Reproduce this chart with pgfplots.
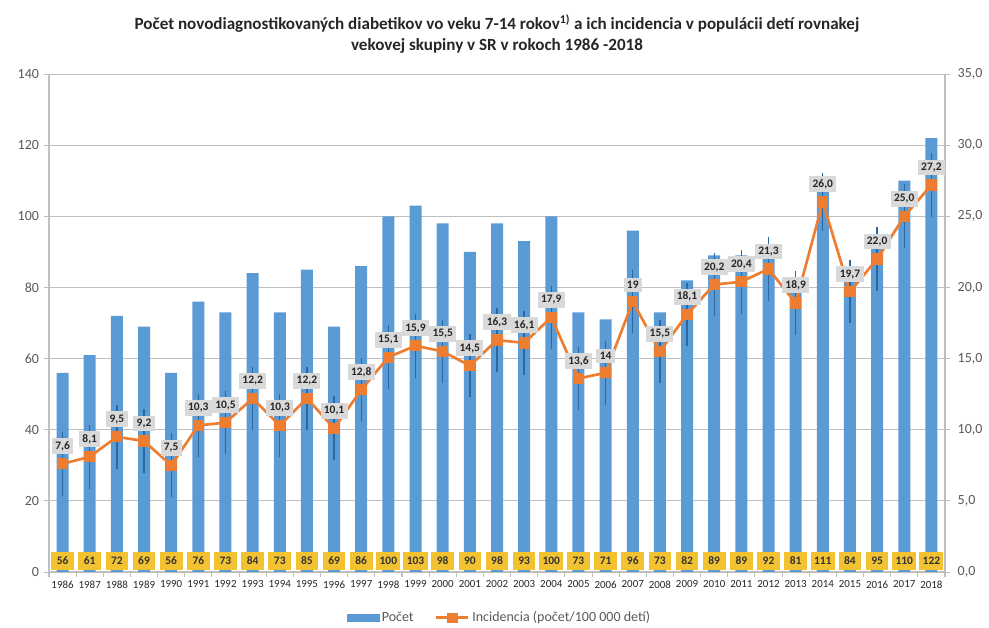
\documentclass[border=0pt]{standalone}
\usepackage{pgfplots}
\pgfplotsset{compat=1.18}
\usepackage{pgfplotstable}
\usepackage{fontspec}
\setmainfont{Carlito}
\definecolor{barblue}{HTML}{5B9BD5}
\definecolor{lineorange}{HTML}{ED7D31}
\definecolor{errblue}{HTML}{2B67A0}
\definecolor{lblgray}{HTML}{D9D9D9}
\definecolor{lblgold}{HTML}{F2C230}
\definecolor{axgray}{HTML}{BFBFBF}
\definecolor{txtgray}{HTML}{595959}

\pgfplotstableread{
x year n inc err lab
0 1986 56 7.6 2 7,6
1 1987 61 8.1 2 8,1
2 1988 72 9.5 2 9,5
3 1989 69 9.2 2 9,2
4 1990 56 7.5 2 7,5
5 1991 76 10.3 2 10,3
6 1992 73 10.5 2 10,5
7 1993 84 12.2 2 12,2
8 1994 73 10.3 2 10,3
9 1995 85 12.2 2 12,2
10 1996 69 10.1 2 10,1
11 1997 86 12.8 2 12,8
12 1998 100 15.1 2 15,1
13 1999 103 15.9 2 15,9
14 2000 98 15.5 2 15,5
15 2001 90 14.5 2 14,5
16 2002 98 16.3 2 16,3
17 2003 93 16.1 2 16,1
18 2004 100 17.9 2 17,9
19 2005 73 13.6 2 13,6
20 2006 71 14.0 2 14
21 2007 96 19.0 2 19
22 2008 73 15.5 2 15,5
23 2009 82 18.1 2 18,1
24 2010 89 20.2 2 20,2
25 2011 89 20.4 2 20,4
26 2012 92 21.3 2 21,3
27 2013 81 18.9 2 18,9
28 2014 111 26.0 1.8 26,0
29 2015 84 19.7 2 19,7
30 2016 95 22.0 2 22,0
31 2017 110 25.0 2 25,0
32 2018 122 27.2 2 27,2
}\datatable

\begin{document}
\begin{tikzpicture}
\useasboundingbox (-36.75pt,-42pt) rectangle (705pt,429pt);
\begin{axis}[
  at={(0,0)}, anchor=south west,
  width=672pt, height=373.5pt, scale only axis,
  xmin=-0.5, xmax=32.5, ymin=0, ymax=140,
  ytick={0,20,...,140},
  ymajorgrids, grid style={axgray, line width=0.6pt},
  axis x line*=bottom, axis y line*=left,
  axis line style={axgray, line width=0.8pt},
  xtick={0,...,32},
  xticklabels={1986,1987,1988,1989,1990,1991,1992,1993,1994,1995,1996,1997,1998,1999,2000,2001,2002,2003,2004,2005,2006,2007,2008,2009,2010,2011,2012,2013,2014,2015,2016,2017,2018},
  minor xtick={-0.5,0.5,...,32.5},
  major x tick style={draw=none},
  minor x tick style={axgray, line width=0.8pt},
  minor tick length=4pt,
  y tick style={axgray, line width=0.6pt},
  major tick length=4pt,
  tick align=outside,
  xticklabel style={font=\fontsize{8.2}{9}\selectfont, text=black!85, yshift=1pt},
  yticklabel style={font=\fontsize{10.5}{12}\selectfont, text=txtgray},
  /pgf/number format/assume math mode=true,
  clip=false,
]
\addplot[ybar, bar width=9pt, fill=barblue, draw=none] table[x=x, y=n] {\datatable};
\addplot[draw=none, mark=none, nodes near coords, point meta=explicit symbolic,
  every node near coord/.append style={anchor=center, fill=lblgold, text=black!80,
    font=\fontsize{8.6}{9}\selectfont\bfseries, inner xsep=2.5pt, inner ysep=2pt,
    minimum width=17pt, minimum height=14pt}]
  table[x=x, y expr=3.1, meta=n] {\datatable};
\node[align=center, font=\fontsize{12.8}{15.5}\selectfont\bfseries, text=black!85] at (rel axis cs:0.5,1) [yshift=30pt]
  {Počet novodiagnostikovaných diabetikov vo veku 7-14 rokov\textsuperscript{1)} a ich incidencia v populácii detí rovnakej\\ vekovej skupiny v SR v rokoch 1986 -2018};
\end{axis}
\begin{axis}[
  at={(0,0)}, anchor=south west,
  width=672pt, height=373.5pt, scale only axis,
  xmin=-0.5, xmax=32.5, ymin=0, ymax=35,
  ytick={0,5,...,35},
  axis x line=none, axis y line*=right,
  axis line style={axgray, line width=0.8pt},
  y tick style={axgray, line width=0.6pt},
  major tick length=4pt, tick align=outside,
  yticklabel style={font=\fontsize{10.5}{12}\selectfont, text=txtgray, xshift=2pt},
  /pgf/number format/.cd, fixed, fixed zerofill, precision=1, use comma, assume math mode=true,
  /pgfplots/.cd,
  legend style={at={(0.503,-0.092)}, anchor=center, draw=none, fill=none,
    legend columns=2, font=\fontsize{10.5}{12}\selectfont, text=txtgray,
    /tikz/every even column/.append style={column sep=14pt}},
  clip=false,
]
\addlegendimage{area legend, legend image code/.code={\fill[barblue] (0pt,-2.8pt) rectangle (24pt,2.8pt);}}
\addlegendentry{Počet}
\addlegendimage{line legend, lineorange, line width=2pt, mark=square*, mark size=2.6pt,
  legend image code/.code={\draw[lineorange, line width=2pt] (0pt,0pt) -- (24pt,0pt); \fill[lineorange] (9pt,-2.6pt) rectangle (15pt,2.6pt);}}
\addlegendentry{Incidencia (počet/100 000 detí)}
\addplot[forget plot, lineorange, line width=2pt, mark=square*, mark size=3.2pt,
  mark options={fill=lineorange, draw=lineorange},
  error bars/.cd, y dir=both, y explicit,
  error bar style={errblue, line width=1pt},
  error mark options={errblue, mark size=2.5pt, line width=1pt}]
  table[x=x, y=inc, y error=err] {\datatable};
\addplot[forget plot, draw=none, mark=none, nodes near coords, point meta=explicit symbolic,
  every node near coord/.append style={anchor=south, yshift=7pt, fill=lblgray, text=black!85,
    font=\fontsize{8.6}{9}\selectfont\bfseries, inner xsep=2.5pt, inner ysep=2.5pt}]
  table[x=x, y=inc, meta=lab] {\datatable};
\end{axis}
\end{tikzpicture}
\end{document}
